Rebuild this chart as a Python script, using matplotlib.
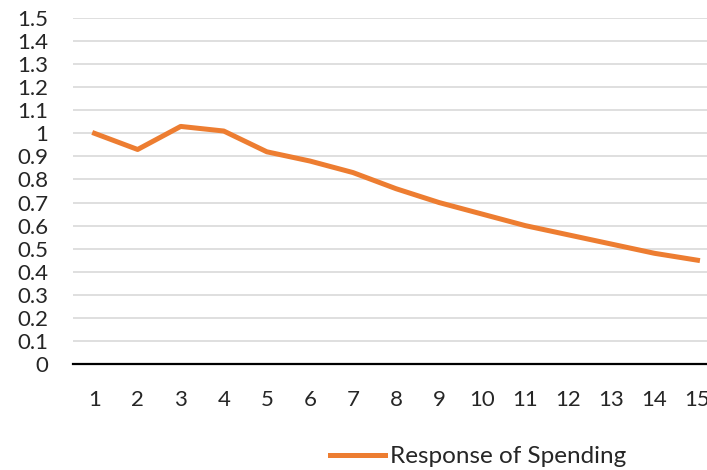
import matplotlib.pyplot as plt
import numpy as np

# response path over 15 periods
periods = list(range(1, 16))
spending = [1.00, 0.93, 1.03, 1.01, 0.92, 0.88, 0.83, 0.76, 0.70, 0.65,
            0.60, 0.56, 0.52, 0.48, 0.45]
yticks = np.round(np.arange(0, 1.51, 0.1), 1)
ylabels = ['0' if v == 0 else ('1' if v == 1 else '%g' % v) for v in yticks]

plt.rcParams['font.family'] = ['Lato', 'DejaVu Sans']

fig = plt.figure(figsize=(7.07, 4.70), dpi=100)
ax = fig.add_axes([0.1033, 0.2255, 0.9137, 0.7362])

ax.plot(periods, spending, color='#ED7D31', lw=3.6, solid_joinstyle='round',
        label='Response of Spending')

ax.set_xlim(0.5, 15.5)
ax.set_ylim(0, 1.5)
ax.set_xticks(periods)
ax.set_yticks(yticks)
ax.set_yticklabels(ylabels)
ax.grid(axis='y', color='#D9D9D9', lw=1.2)
ax.set_axisbelow(True)

for s in ['top', 'right', 'left']:
    ax.spines[s].set_visible(False)
ax.spines['bottom'].set_color('black')
ax.spines['bottom'].set_linewidth(1.6)
ax.spines['bottom'].set_zorder(3)

ax.tick_params(axis='both', length=0, labelsize=16, colors='#262626')
ax.tick_params(axis='y', pad=18)
ax.tick_params(axis='x', pad=19)

fig.legend(loc='center', bbox_to_anchor=(0.676, 0.028), frameon=False,
           fontsize=17.5, handlelength=2.25, handletextpad=0.2, labelcolor='#262626')

fig.savefig('out.png', dpi=100)
